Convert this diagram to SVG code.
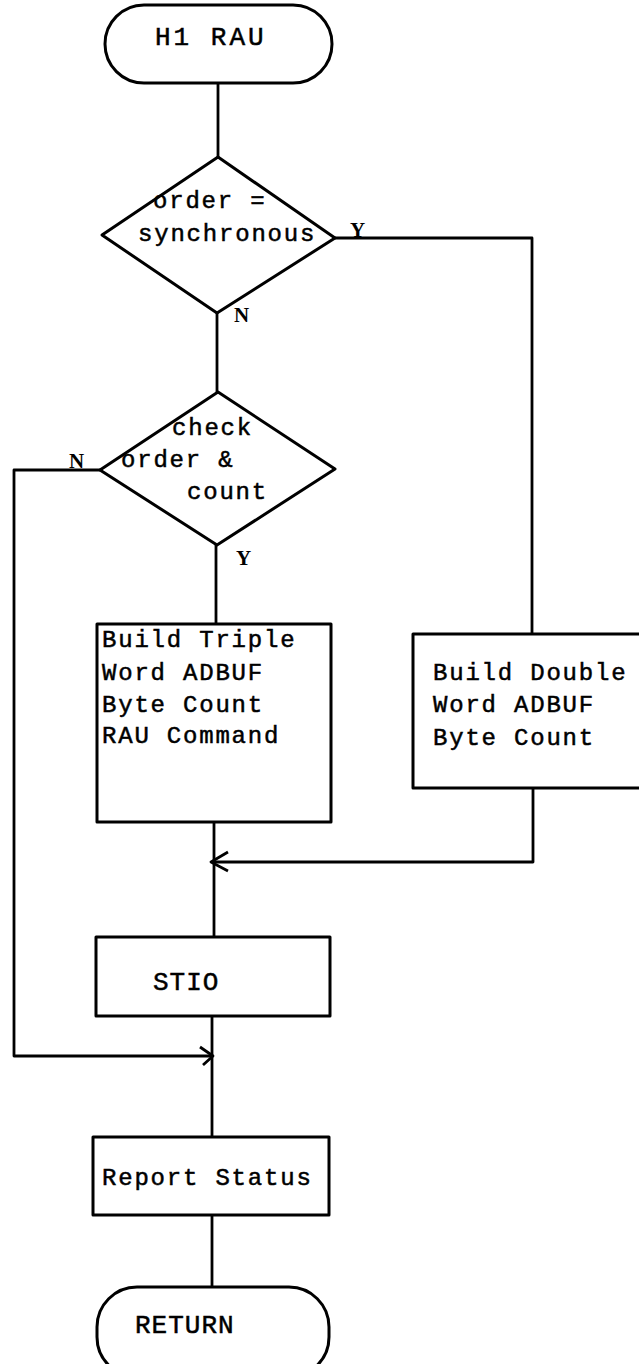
<svg xmlns="http://www.w3.org/2000/svg" width="639" height="1364" viewBox="0 0 639 1364">
<style>
.s{fill:#fff;stroke:#000;stroke-width:3;stroke-linejoin:round}
.c{fill:none;stroke:#000;stroke-width:2.8;stroke-linejoin:round}
.t{font-family:"Liberation Mono","DejaVu Sans Mono",monospace;font-size:24px;letter-spacing:1.8px;fill:#000;stroke:#000;stroke-width:0.5}
.b{font-size:26px;letter-spacing:1px}
.l{font-family:"Liberation Serif","DejaVu Serif",serif;font-size:21px;font-weight:bold;fill:#000}
</style>
<rect width="639" height="1364" fill="#fff"/>
<g id="connectors">
<path class="c" d="M218 83V157"/>
<path class="c" d="M217 313V392"/>
<path class="c" d="M216 545V624"/>
<path class="c" d="M214 822V937"/>
<path class="c" d="M212 1016V1137"/>
<path class="c" d="M212 1215V1287"/>
<path class="c" d="M335 238H532V634"/>
<path class="c" d="M533 788V862H214"/>
<path class="c" d="M228 852L211 862L228 871"/>
<path class="c" d="M100 470H14V1056H212"/>
<path class="c" d="M200 1047L213 1056L203 1065"/>
</g>
<g id="start">
<rect class="s" x="105" y="5" width="227" height="78" rx="39"/>
<text class="t b" x="155" y="45" style="letter-spacing:3px">H1 RAU</text>
</g>
<g id="decision1">
<polygon class="s" points="218,157 335,238 217,313 102,235"/>
<text class="t" x="153" y="208">order =</text>
<text class="t" x="138" y="241">synchronous</text>
<text class="l" x="350" y="237">Y</text>
<text class="l" x="234" y="322">N</text>
</g>
<g id="decision2">
<polygon class="s" points="218,392 335,469 217,545 100,470"/>
<text class="t" x="172" y="435">check</text>
<text class="t" x="121" y="467">order &amp;</text>
<text class="t" x="187" y="499">count</text>
<text class="l" x="69" y="468">N</text>
<text class="l" x="236" y="565">Y</text>
</g>
<g id="build-triple">
<rect class="s" x="97" y="624" width="234" height="198"/>
<text class="t" x="102" y="647">Build Triple</text>
<text class="t" x="102" y="680">Word ADBUF</text>
<text class="t" x="102" y="712">Byte Count</text>
<text class="t" x="102" y="743">RAU Command</text>
</g>
<g id="build-double">
<rect class="s" x="413" y="634" width="240" height="154"/>
<text class="t" x="433" y="680">Build Double</text>
<text class="t" x="433" y="712">Word ADBUF</text>
<text class="t" x="433" y="745">Byte Count</text>
</g>
<g id="stio">
<rect class="s" x="96" y="937" width="234" height="79"/>
<text class="t b" x="153" y="990">STIO</text>
</g>
<g id="report-status">
<rect class="s" x="93" y="1137" width="236" height="78"/>
<text class="t" x="102" y="1185">Report Status</text>
</g>
<g id="return">
<rect class="s" x="97" y="1287" width="232" height="90" rx="40"/>
<text class="t b" x="135" y="1333">RETURN</text>
</g>
</svg>
